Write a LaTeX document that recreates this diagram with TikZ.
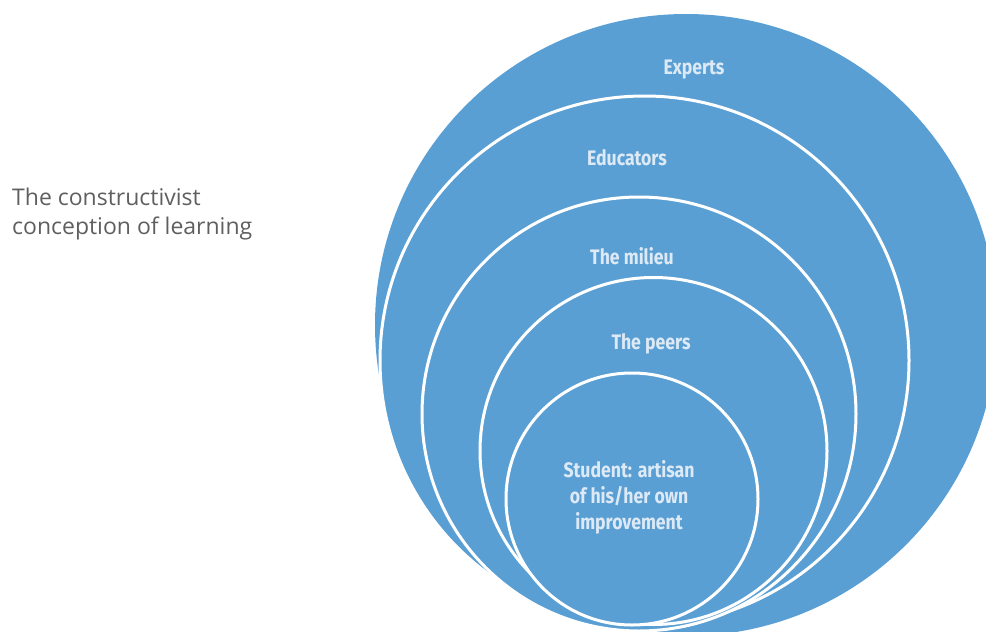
\documentclass[tikz,border=0pt]{standalone}
\usepackage{fontspec}
\setmainfont{Open Sans}
\newfontfamily\labelfont[FakeStretch=0.84]{Fira Sans}
\definecolor{ringblue}{RGB}{89,159,212}
\definecolor{labeltext}{RGB}{221,234,246}
\definecolor{titlegrey}{RGB}{95,95,95}
\begin{document}
\begin{tikzpicture}[x=1pt,y=-1pt,
  ring/.style={fill=ringblue,draw=white,line width=3pt},
  ringlabel/.style={font=\labelfont\bfseries\fontsize{21}{26}\selectfont,text=labeltext,align=center,inner sep=0pt},
  title/.style={font=\fontsize{23}{29}\selectfont,text=titlegrey,align=left,anchor=north west,inner sep=0pt}]
\useasboundingbox (0,0) rectangle (986,632);
\begin{scope}
\clip (0,0) rectangle (986,632);
\fill[ringblue] (686,325) circle[radius=311pt];
\draw[ring] (644.5,360.5) circle[radius=264.5pt];
\draw[ring] (639,414) circle[radius=217pt];
\draw[ring] (653.5,451) circle[radius=173.5pt];
\draw[ring] (632,499) circle[radius=126pt];
\end{scope}
\node[ringlabel] (experts) at (694,70) {Experts};
\node[ringlabel] (educators) at (627,158) {Educators};
\node[ringlabel] (milieu) at (632,256) {The milieu};
\node[ringlabel] (peers) at (651,344) {The peers};
\node[ringlabel] (student) at (629,497) {Student: artisan\\of his/her own\\improvement};
\node[title] (heading) at (12,188) {The constructivist\\conception of learning};
\end{tikzpicture}
\end{document}
